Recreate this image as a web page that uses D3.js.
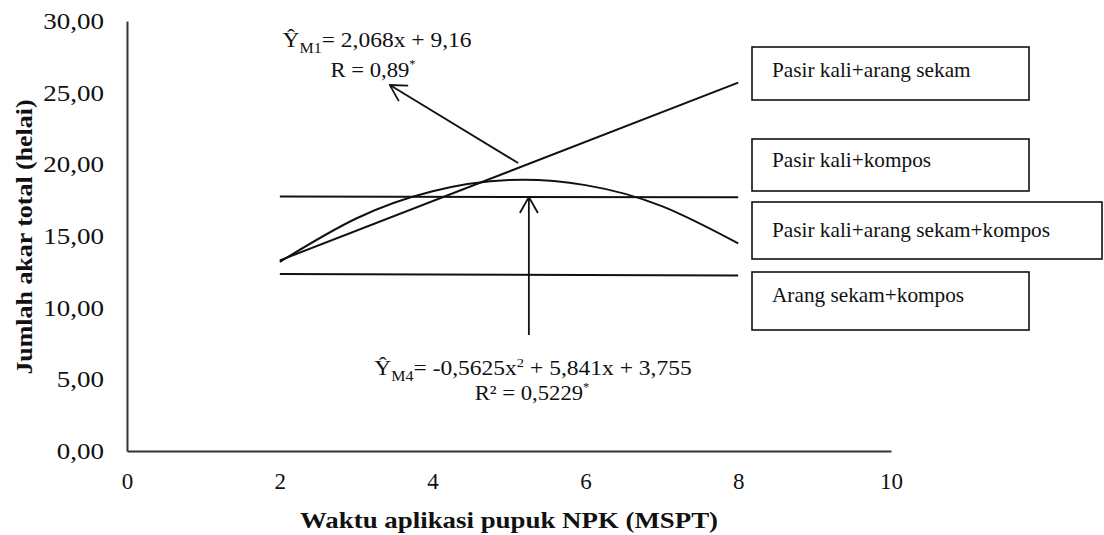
<!DOCTYPE html>
<html>
<head>
<meta charset="utf-8">
<script src="https://cdn.jsdelivr.net/npm/d3@7"></script>
<style>
  html, body { margin: 0; padding: 0; background: #fff; }
  svg { display: block; font-family: "Liberation Serif", "Times New Roman", serif; }
</style>
</head>
<body>
<script>
// ---------- data ----------
const xTicks = [0, 2, 4, 6, 8, 10];
const yTicks = [0, 5, 10, 15, 20, 25, 30];
const seriesNames = ["Pasir kali+arang sekam", "Pasir kali+kompos", "Pasir kali+arang sekam+kompos", "Arang sekam+kompos"];

const linearX = [2, 8];
const linearY = [13.30, 25.70];          // Ŷ M1 (linear)
const quadX = [2, 3, 4, 5, 6, 7, 8];
const quadY = [13.19, 16.22, 18.12, 18.90, 18.55, 17.08, 14.48]; // Ŷ M4 (quadratic)
const upperX = [2, 8];
const upperY = [17.75, 17.70];
const lowerX = [2, 8];
const lowerY = [12.35, 12.25];

const xTitle = "Waktu aplikasi pupuk NPK (MSPT)";
const yTitle = "Jumlah akar total (helai)";

// annotation arrows (data coords): from -> to
const arrowM1 = { x1: 5.12, y1: 20.09, x2: 3.44, y2: 25.53 };
const arrowM4 = { x1: 5.26, y1: 8.09, x2: 5.26, y2: 17.72 };

// ---------- layout ----------
const W = 1104, H = 535;
const svg = d3.select("body").append("svg").attr("width", W).attr("height", H);

const x = d3.scaleLinear().domain([0, 10]).range([127, 891]);
const y = d3.scaleLinear().domain([0, 30]).range([451, 21]);

const loc = d3.formatLocale({ decimal: ",", thousands: ".", grouping: [3], currency: ["", ""] });
const fmtY = loc.format(".2f");

const axisColor = "#333";
const ink = "#111";

// x axis
const gx = svg.append("g").attr("transform", `translate(0,${y(0)})`)
  .call(d3.axisBottom(x).tickValues(xTicks).tickSize(0).tickSizeOuter(0).tickPadding(22).tickFormat(d3.format("d")));
gx.select(".domain").attr("stroke", axisColor).attr("stroke-width", 2);
gx.selectAll("text").attr("fill", ink).style("font-size", "23px").style("font-family", "Liberation Serif");

// y axis
const gy = svg.append("g").attr("transform", `translate(${x(0)},0)`)
  .call(d3.axisLeft(y).tickValues(yTicks).tickSize(0).tickSizeOuter(0).tickPadding(20).tickFormat(fmtY));
gy.select(".domain").attr("stroke", axisColor).attr("stroke-width", 2);
gy.selectAll("text").attr("fill", ink).style("font-size", "23.5px").style("font-family", "Liberation Serif")
  .attr("transform", "scale(1.15,1)");

// ---------- text helper ----------
function stext(x0, y0, sx, anchor, size, weight, parts, rot) {
  const t = svg.append("text")
    .attr("transform", `translate(${x0},${y0})${rot ? " rotate(" + rot + ")" : ""} scale(${sx},1)`)
    .attr("text-anchor", anchor)
    .attr("fill", ink)
    .style("font-size", size + "px")
    .style("font-weight", weight);
  let shift = 0;
  parts.forEach(p => {
    const ts = t.append("tspan").text(p.t);
    let target = 0;
    if (p.k === "sub") { target = size * 0.28; ts.style("font-size", (size * 0.68) + "px"); }
    else if (p.k === "sup") { target = -size * 0.38; ts.style("font-size", (size * 0.62) + "px"); }
    else if (p.k === "star") { target = -size * 0.45; ts.style("font-size", (size * 0.55) + "px"); }
    ts.attr("dy", target - shift);
    shift = target;
  });
  return t;
}

// ---------- series lines ----------
const line = d3.line().x(d => x(d[0])).y(d => y(d[1]));
const curve = d3.line().x(d => x(d[0])).y(d => y(d[1])).curve(d3.curveNatural);

function draw(gen, xs, ys) {
  svg.append("path").datum(xs.map((v, i) => [v, ys[i]]))
    .attr("d", gen).attr("fill", "none").attr("stroke", ink).attr("stroke-width", 2);
}
draw(line, upperX, upperY);
draw(line, lowerX, lowerY);
draw(line, linearX, linearY);
draw(curve, quadX, quadY);

// ---------- arrows ----------
const defs = svg.append("defs");
defs.append("marker").attr("id", "vhead").attr("viewBox", "0 0 20 20")
  .attr("refX", 19).attr("refY", 10).attr("markerWidth", 20).attr("markerHeight", 20)
  .attr("markerUnits", "userSpaceOnUse").attr("orient", "auto")
  .append("path").attr("d", "M3,1 L19,10 L3,19").attr("fill", "none").attr("stroke", ink).attr("stroke-width", 1.8);

[arrowM1, arrowM4].forEach(a => {
  svg.append("line")
    .attr("x1", x(a.x1)).attr("y1", y(a.y1)).attr("x2", x(a.x2)).attr("y2", y(a.y2))
    .attr("stroke", ink).attr("stroke-width", 1.8).attr("marker-end", "url(#vhead)");
});

// ---------- equations ----------
stext(377, 47, 1.12, "middle", 21, "normal", [
  { t: "Ŷ" }, { t: "M1", k: "sub" }, { t: "= 2,068x + 9,16" }
]);
stext(373, 77, 1.08, "middle", 21, "normal", [
  { t: "R = 0,89" }, { t: "*", k: "star" }
]);
stext(533, 375, 1.12, "middle", 21, "normal", [
  { t: "Ŷ" }, { t: "M4", k: "sub" }, { t: "= -0,5625x" }, { t: "2", k: "sup" }, { t: " + 5,841x + 3,755" }
]);
stext(532, 400, 1.08, "middle", 21, "normal", [
  { t: "R² = 0,5229" }, { t: "*", k: "star" }
]);

// ---------- legend boxes ----------
const boxes = [
  { x0: 752, y0: 47, x1: 1029, y1: 100, base: 77 },
  { x0: 752, y0: 139, x1: 1029, y1: 191, base: 167 },
  { x0: 752, y0: 202, x1: 1102, y1: 259, base: 237 },
  { x0: 752, y0: 272, x1: 1029, y1: 330, base: 302 }
];
boxes.forEach((b, i) => {
  svg.append("rect").attr("x", b.x0).attr("y", b.y0).attr("width", b.x1 - b.x0).attr("height", b.y1 - b.y0)
    .attr("fill", "none").attr("stroke", ink).attr("stroke-width", 1.6);
  stext(772, b.base, 0.99, "start", 21.5, "normal", [{ t: seriesNames[i] }]);
});

// ---------- axis titles ----------
stext(509, 528, 1.12, "middle", 24, "bold", [{ t: xTitle }]);
stext(32, 237, 1.08, "middle", 24, "bold", [{ t: yTitle }], -90);
</script>
</body>
</html>
